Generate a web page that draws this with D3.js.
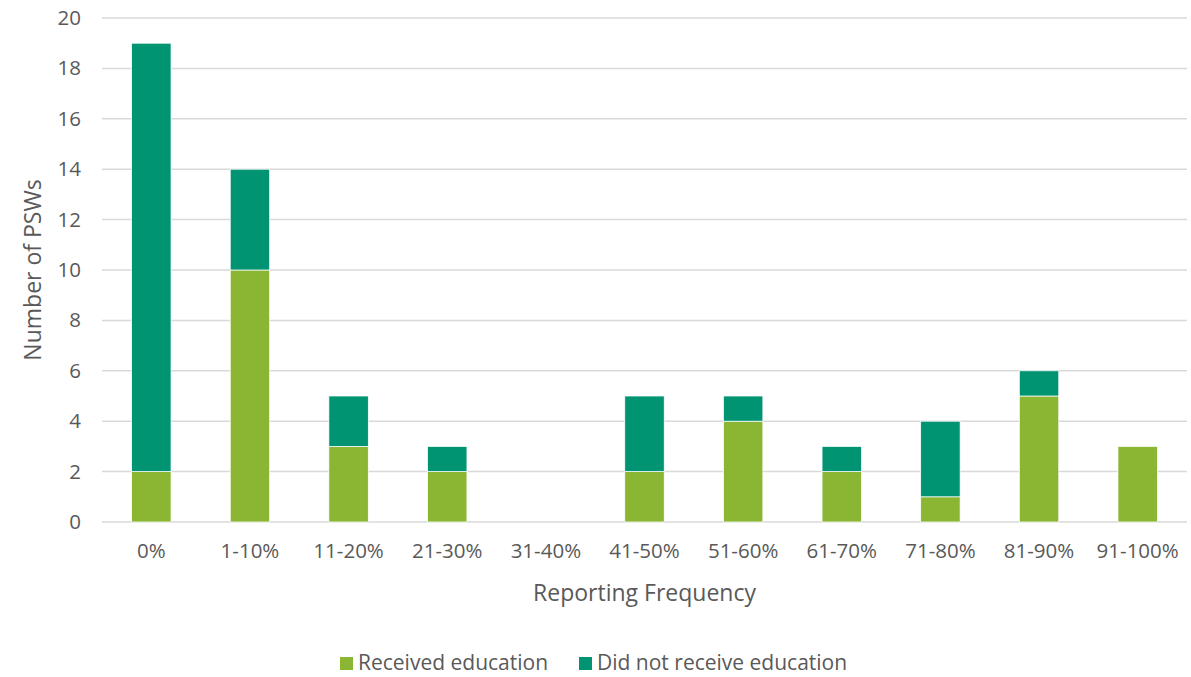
<!DOCTYPE html>
<html><head><meta charset="utf-8">
<script src="https://cdn.jsdelivr.net/npm/d3@7"></script>
<style>body{margin:0;background:#fff}svg text{font-family:"Open Sans",Lato,sans-serif;fill:#595959}</style>
</head><body><svg id="c" width="1191" height="677"></svg>
<script>
const categories = ["0%","1-10%","11-20%","21-30%","31-40%","41-50%","51-60%","61-70%","71-80%","81-90%","91-100%"];
const received = [2,10,3,2,0,2,4,2,1,5,3];
const notReceived = [17,4,2,1,0,3,1,1,3,1,0];
const yTicks = [0,2,4,6,8,10,12,14,16,18,20];
const seriesNames = ["Received education","Did not receive education"];
const colors = ["#8BB634","#009473"];

const svg = d3.select("#c");
const m = {l:102, r:1187, t:18, b:522};
const x = d3.scaleBand().domain(categories).range([m.l, m.r]).paddingInner(0.6).paddingOuter(0.3);
const y = d3.scaleLinear().domain([0,20]).range([m.b, m.t]);

svg.append("g").selectAll("line").data(yTicks).join("line")
  .attr("x1", m.l).attr("x2", m.r).attr("y1", d=>y(d)).attr("y2", d=>y(d))
  .attr("stroke", "#d9d9d9").attr("stroke-width", 1.5);

const data = categories.map((c,i)=>({cat:c, received:received[i], notReceived:notReceived[i]}));
const stack = d3.stack().keys(["received","notReceived"])(data);
svg.append("g").selectAll("g").data(stack).join("g").attr("fill",(d,i)=>colors[i])
  .selectAll("rect").data(d=>d.filter(p=>p[1]-p[0]>0)).join("rect")
  .attr("x", d=>x(d.data.cat)).attr("width", x.bandwidth())
  .attr("y", d=>y(d[1])).attr("height", d=>y(d[0])-y(d[1]))
  .attr("stroke","#fff").attr("stroke-width",0.75);

const yAxis = d3.axisLeft(y).tickValues(yTicks).tickSize(0).tickPadding(0);
const gy = svg.append("g").attr("transform", `translate(${m.l-21},0)`).call(yAxis);
gy.select(".domain").remove();
gy.selectAll("text").attr("font-size", 20.5).style("font-family","'Open Sans', sans-serif").attr("fill","#595959");

const xAxis = d3.axisBottom(x).tickSize(0).tickPadding(0);
const gx = svg.append("g").attr("transform", `translate(0,${m.b+21})`).call(xAxis);
gx.select(".domain").remove();
gx.selectAll("text").attr("font-size", 20.5).style("font-family","'Open Sans', sans-serif").attr("fill","#595959").attr("dy","0.71em");

svg.append("text").attr("x", (m.l+m.r)/2).attr("y", 601).attr("text-anchor","middle")
  .attr("font-size", 23).text("Reporting Frequency");
svg.append("text").attr("transform", `translate(41,${(m.t+m.b)/2}) rotate(-90)`).attr("text-anchor","middle")
  .attr("font-size", 23).text("Number of PSWs");

const leg = svg.append("g");
const legX = [340, 579];
seriesNames.forEach((n,i)=>{
  leg.append("rect").attr("x", legX[i]).attr("y", 657).attr("width", 13).attr("height", 13).attr("fill", colors[i]);
  leg.append("text").attr("x", legX[i]+18).attr("y", 670).attr("font-size", 21).text(n);
});
</script></body></html>
